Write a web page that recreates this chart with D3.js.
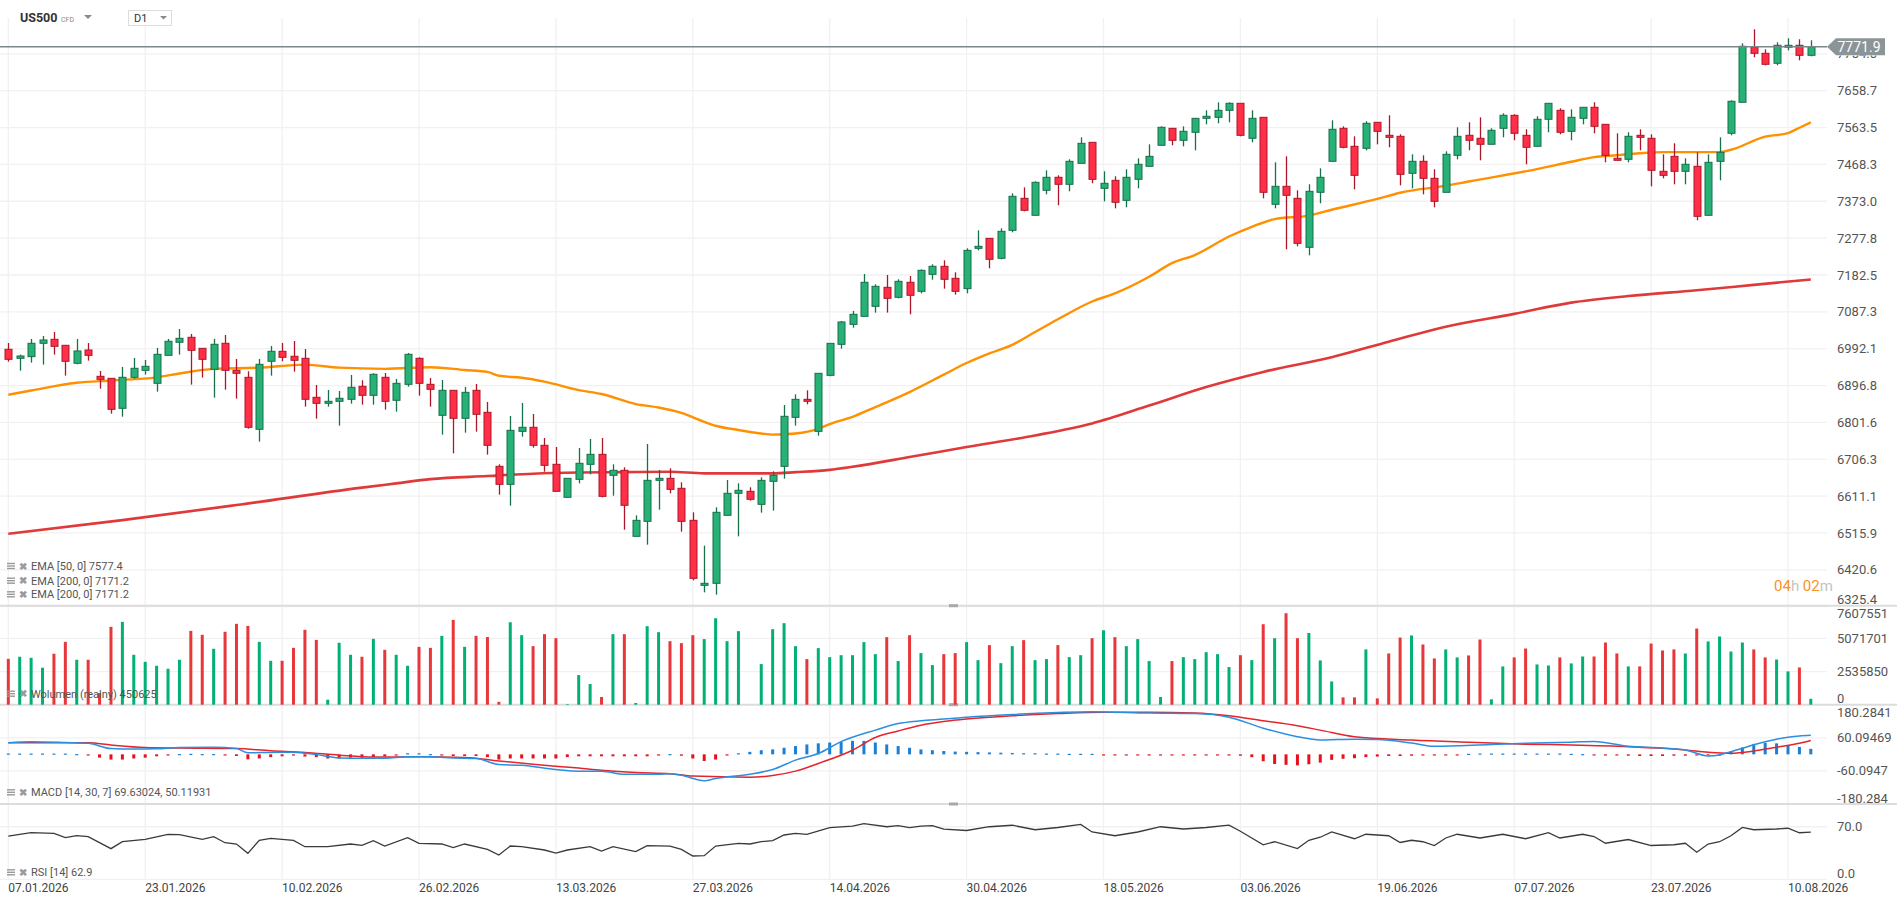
<!DOCTYPE html>
<html><head><meta charset="utf-8">
<script src="https://cdn.jsdelivr.net/npm/d3@7"></script>
<style>html,body{margin:0;padding:0;background:#fff;overflow:hidden}svg{display:block;font-family:Roboto,"Noto Sans",sans-serif}</style>
</head><body><svg id="c" width="1897" height="906"></svg>
<script>
const dateLabels = ["07.01.2026","23.01.2026","10.02.2026","26.02.2026","13.03.2026","27.03.2026","14.04.2026","30.04.2026","18.05.2026","03.06.2026","19.06.2026","07.07.2026","23.07.2026","10.08.2026"];
const open = [
6990.5,6967.2,6971.5,7006.0,7016.3,7000.8,6954.3,6988.7,6920.7,6915.5,
6838.0,6918.1,6936.2,6902.6,6974.9,7008.6,7021.5,6993.0,6938.8,7006.0,
6936.2,6918.1,6783.8,6959.5,6985.3,6972.4,6967.2,6866.4,6850.9,6856.1,
6861.3,6894.9,6871.6,6918.1,6858.7,6900.0,6967.2,6900.0,6819.9,6884.5,
6812.2,6884.5,6827.6,6688.1,6641.6,6778.5,6788.9,6742.4,6693.3,6608.0,
6654.5,6693.3,6719.1,6664.9,6677.8,6507.2,6546.0,6651.9,6657.1,6631.3,
6548.6,6380.6,6385.8,6561.5,6618.4,6623.5,6589.9,6649.4,6688.1,6814.7,
6861.2,6778.5,6923.2,7003.3,7055.0,7075.7,7101.5,7150.6,7124.8,7163.6,
7140.3,7184.2,7204.9,7173.9,7147.2,7251.4,7277.2,7225.6,7297.9,7380.6,
7336.7,7401.3,7434.9,7416.8,7471.0,7525.3,7406.4,7427.1,7375.4,7429.7,
7463.3,7517.6,7561.5,7530.5,7551.1,7587.3,7589.9,7608.0,7626.1,7535.7,
7589.9,7365.1,7411.6,7380.6,7254.0,7396.1,7476.2,7561.5,7515.0,7509.8,
7577.0,7543.4,7540.8,7445.2,7476.2,7432.3,7396.1,7491.7,7543.4,7535.7,
7520.2,7561.5,7595.1,7543.4,7515.0,7584.8,7608.0,7553.7,7587.3,7615.8,
7571.8,7484.0,7481.4,7543.4,7535.7,7450.4,7489.1,7450.4,7463.3,7336.7,
7476.2,7548.6,7628.7,7770.8,7755.3,7729.5,7770.8,7776.0,7750.1];
const high = [
7006.8,6976.7,7017.2,7024.9,7035.3,7000.8,7017.2,7006.8,6934.5,6915.5,
6944.8,6968.1,6962.9,6993.9,7017.2,7043.0,7030.1,6993.0,7017.2,7027.5,
6965.5,6933.6,6965.5,6999.1,7006.8,7012.0,6991.3,6898.3,6885.4,6882.8,
6924.2,6910.4,6928.5,6929.3,6913.8,6981.0,6969.8,6916.4,6911.2,6884.5,
6893.1,6900.9,6854.4,6693.3,6818.2,6851.8,6823.3,6761.3,6738.1,6657.1,
6735.5,6758.7,6761.3,6693.3,6685.5,6561.5,6745.8,6678.7,6683.0,6646.8,
6569.3,6483.1,6582.2,6652.8,6644.2,6633.9,6659.7,6675.2,6846.6,6874.2,
6884.5,6928.4,7005.9,7063.6,7089.5,7185.1,7158.4,7182.5,7171.3,7179.9,
7197.1,7210.1,7220.4,7189.4,7251.4,7297.9,7277.2,7303.1,7393.5,7409.0,
7424.5,7452.9,7440.0,7481.4,7538.2,7525.3,7450.4,7437.5,7455.5,7484.0,
7520.1,7566.6,7561.5,7566.6,7587.3,7608.0,7628.7,7628.7,7626.1,7608.0,
7589.9,7473.6,7489.1,7401.3,7416.8,7458.1,7582.2,7566.6,7540.8,7579.6,
7577.0,7595.1,7546.0,7494.3,7491.7,7455.6,7502.1,7564.1,7577.0,7589.9,
7561.5,7600.3,7597.7,7558.9,7592.5,7626.1,7613.2,7610.6,7615.8,7628.7,
7571.8,7548.6,7551.2,7558.9,7546.0,7494.3,7522.7,7484.0,7499.5,7494.3,
7538.2,7633.8,7781.1,7817.3,7765.6,7783.7,7794.1,7791.5,7788.9];
const low = [
6958.6,6935.3,6956.0,6950.9,6976.7,6922.4,6951.7,6961.2,6888.8,6824.2,
6816.5,6914.7,6925.0,6881.1,6974.9,6976.7,6899.2,6917.3,6865.6,6886.3,
6863.0,6785.5,6751.9,6922.4,6959.5,6932.8,6842.3,6811.3,6842.3,6793.2,
6850.1,6847.5,6847.5,6834.6,6829.4,6894.0,6870.8,6842.3,6770.0,6721.7,
6775.1,6777.7,6718.3,6614.9,6586.5,6764.8,6736.3,6674.3,6623.5,6608.0,
6644.2,6667.4,6608.0,6612.3,6524.5,6507.2,6485.7,6576.1,6618.4,6519.3,
6393.5,6362.5,6356.5,6561.5,6507.2,6599.4,6568.4,6573.6,6656.2,6793.2,
6848.3,6767.4,6920.7,6992.2,7046.4,7075.7,7085.2,7085.2,7122.2,7080.9,
7135.1,7170.4,7147.2,7131.7,7135.1,7246.2,7199.7,7223.0,7292.8,7347.0,
7336.7,7390.9,7362.5,7398.7,7471.0,7419.4,7372.8,7354.8,7357.4,7406.4,
7463.3,7517.6,7517.6,7515.0,7504.6,7571.8,7574.4,7577.0,7540.8,7525.3,
7380.6,7354.8,7248.8,7256.6,7233.3,7367.7,7476.2,7509.8,7403.9,7504.6,
7520.1,7512.4,7414.2,7406.4,7390.9,7357.4,7396.1,7481.4,7504.7,7478.8,
7520.2,7538.2,7530.5,7468.5,7515.0,7551.2,7546.0,7530.5,7571.8,7548.6,
7473.6,7478.8,7473.6,7504.7,7411.6,7432.3,7416.8,7416.8,7323.8,7336.7,
7427.1,7543.4,7628.7,7745.0,7724.3,7724.3,7763.0,7737.2,7747.5];
const close = [
6964.6,6973.2,7006.0,7014.6,6998.2,6959.5,6986.2,6974.9,6912.9,6835.4,
6918.1,6941.4,6946.5,6977.5,7011.2,7018.9,6987.9,6964.6,7003.4,6936.2,
6928.5,6788.9,6951.7,6985.3,6969.8,6962.0,6861.3,6850.9,6856.1,6863.9,
6892.3,6871.6,6925.9,6856.1,6902.6,6977.5,6902.6,6887.1,6884.5,6812.2,
6879.3,6822.5,6742.4,6641.6,6781.1,6788.9,6742.4,6690.7,6623.5,6657.1,
6695.9,6719.1,6610.6,6677.8,6587.4,6548.6,6651.9,6657.1,6628.7,6546.0,
6398.7,6385.8,6569.3,6618.4,6626.1,6602.9,6651.9,6664.9,6817.3,6861.2,
6856.1,6928.4,7005.9,7061.1,7080.9,7163.6,7153.2,7122.2,7166.1,7130.0,
7194.5,7204.9,7171.3,7140.3,7246.2,7256.6,7223.0,7295.3,7385.8,7349.6,
7421.9,7434.9,7416.8,7476.2,7522.7,7429.7,7419.4,7370.3,7434.9,7468.5,
7489.1,7564.1,7530.5,7553.7,7587.3,7592.5,7608.0,7626.1,7543.4,7587.3,
7396.1,7411.6,7388.4,7264.3,7398.7,7434.9,7558.9,7512.4,7440.0,7574.4,
7553.7,7538.2,7442.6,7476.2,7432.3,7372.9,7494.3,7540.8,7530.5,7520.2,
7556.3,7595.1,7548.6,7512.4,7584.8,7626.1,7551.2,7590.0,7615.8,7566.7,
7491.7,7478.8,7540.8,7538.2,7453.0,7440.0,7450.4,7468.5,7334.1,7473.6,
7499.5,7631.3,7773.4,7755.3,7726.9,7776.0,7776.0,7750.1,7771.9];
// volume in millions
const volumeM = [
3.51,3.67,3.59,2.83,3.90,4.81,3.44,3.44,0.89,5.96,
6.34,3.82,3.28,2.98,2.75,3.44,5.65,5.35,4.28,5.58,
6.19,6.03,4.81,3.36,3.36,4.35,5.73,4.96,0.38,4.74,
3.82,3.67,5.04,4.20,3.82,2.98,4.43,4.35,5.27,6.49,
4.43,5.27,5.18,0.22,6.31,5.32,4.48,5.40,5.09,0.05,
2.27,1.58,0.59,5.40,5.40,0.13,6.01,5.55,4.86,4.71,
5.32,5.02,6.62,4.86,5.63,0,3.11,5.78,6.24,4.48,
3.49,4.33,3.64,3.79,3.79,4.79,3.87,5.17,3.34,5.32,
3.95,3.03,3.87,3.95,4.79,3.41,4.56,3.18,4.48,4.94,
3.41,3.49,4.56,3.64,3.79,5.09,5.70,5.17,4.48,5.02,
3.34,0.59,3.34,3.64,3.49,4.02,3.87,2.88,3.79,3.41,
6.16,5.09,7.00,5.09,5.49,3.39,1.78,0.56,0.56,4.23,
0.48,3.92,5.14,5.30,4.61,3.54,4.23,3.62,3.77,4.99,
0.41,2.93,3.62,4.30,3.08,3.00,3.62,3.16,3.69,3.69,
4.76,3.92,2.93,2.93,4.68,4.15,4.23,3.92,5.83,4.84,
5.22,4.07,4.76,4.23,3.62,3.46,2.55,2.85,0.450625];
const ema50Pts = [[0,6873],[2,6884],[6,6904],[9,6910],[13,6918],[15,6928],[18,6940],[22,6943],[26,6951],[29,6943],[33,6940],[37,6944],[40,6937],[42,6932],[43,6922],[45,6917],[47,6907],[50,6885],[52,6875],[55,6849],[57,6840],[59,6826],[61,6803],[62,6793],[64,6782],[66,6773],[67,6770],[69,6773],[71,6785],[72,6797],[74,6816],[76,6841],[79,6880],[82,6925],[84,6955],[86,6980],[88,7002],[90,7035],[92,7068],[95,7114],[97,7135],[100,7178],[102,7213],[104,7234],[107,7282],[109,7307],[111,7327],[114,7336],[116,7351],[120,7379],[122,7395],[126,7413],[128,7424],[134,7456],[137,7475],[139,7487],[141,7492],[143,7497],[145,7500],[150,7500],[151,7506],[154,7540],[156,7549],[157,7563],[158,7577]];
const ema200Pts = [[0,6514],[10,6549],[20,6588],[31,6633],[34,6644],[37,6655],[42,6663],[46,6669],[50,6672],[54,6673],[58,6674],[61,6670],[64,6670],[67,6670],[69,6673],[72,6679],[74,6687],[79,6712],[84,6738],[90,6768],[95,6799],[100,6845],[105,6893],[110,6932],[116,6970],[121,7010],[126,7049],[132,7082],[137,7111],[142,7128],[148,7143],[153,7157],[158,7171]];
const macdPts = [[0,42],[2,46],[5,43],[7,40],[9,21],[11,19],[13,20],[15,25],[18,26],[20,21],[21,6],[23,7],[25,8],[27,-1],[29,-13],[31,-14],[33,-14],[35,-9],[37,-9],[39,-13],[41,-15],[43,-37],[45,-40],[48,-55],[50,-61],[52,-61],[54,-72],[57,-72],[58,-70],[59,-76],[61,-96],[62,-88],[65,-72],[67,-55],[69,-21],[71,3],[73,46],[76,88],[78,112],[80,122],[82,128],[84,135],[88,145],[92,152],[95,155],[100,150],[104,148],[107,135],[110,95],[113,64],[115,52],[118,55],[120,54],[123,41],[125,29],[130,36],[133,40],[137,44],[139,47],[142,29],[145,23],[147,16],[149,-6],[150,-2],[151,10],[152,22],[153,35],[154,46],[155,55],[156,62],[157,67],[158,69.6]];
const signalPts = [[0,42],[5,42],[7,42],[9,34],[12,25],[15,23],[20,21],[23,13],[26,7],[29,-3],[32,-10],[36,-9],[40,-11],[43,-24],[46,-36],[50,-50],[52,-58],[55,-66],[58,-70],[60,-79],[65,-83],[67,-77],[69,-61],[71,-33],[74,15],[76,61],[78,85],[80,106],[82,119],[84,128],[88,140],[92,148],[96,153],[100,153],[104,150],[107,140],[110,122],[113,104],[115,88],[118,64],[123,52],[128,44],[133,37],[137,34],[142,28],[145,22],[147,16],[149,8],[151,4],[153,12],[155,26],[157,40],[158,50.1]];
const hist = [
3,3,3,3,3,3,1,-1,
-12,-19,-19,-15,-12,-7,-2,
1,2,1,1,-1,
-6,-18,-15,-10,-7,-4,
-8,-10,-15,-15,-12,-12,-10,-7,-3,
4,4,1,-1,
-6,-6,-6,-10,
-19,-15,-15,-15,-15,-15,
-10,-7,-7,-7,-7,-7,-7,-7,
-3,1,-5,
-15,-24,-19,-3,
4,9,15,18,24,30,36,40,43,45,49,49,43,36,30,24,18,15,12,
10,9,8,7,6,5,4,4,3,3,2,2,2,
-1,-2,-2,-2,-2,-1,-1,-1,-1,-1,-2,-3,
-5,-10,-25,-35,-38,-40,-36,-30,-20,-16,-14,-10,-8,-6,-6,-5,-4,-3,-3,-2,
2,3,3,3,3,3,3,3,3,2,1,-1,
-3,-4,-5,-6,-6,-6,-5,-5,-4,-3,-2,
10,25,38,42,40,33,27,20];
const rsiPts = [[0,57.6],[2,62.1],[4,61.2],[5,55.4],[6,58.1],[7,56.7],[9,40.8],[10,50.1],[12,53.2],[14,59.8],[15,59.4],[17,53.2],[18,56.7],[19,48.7],[20,47.0],[21,34.6],[22,51.9],[23,54.5],[25,51.9],[26,43.4],[28,43.4],[30,47.0],[31,45.2],[32,51.4],[33,44.3],[35,55.4],[36,47.9],[38,47.0],[39,42.1],[40,47.0],[42,39.9],[43,32.3],[44,44.3],[45,43.4],[47,39.0],[48,35.0],[49,39.0],[51,43.4],[52,37.7],[53,43.4],[55,36.8],[56,44.8],[58,44.3],[59,39.9],[60,31.0],[61,31.4],[62,44.3],[64,47.9],[65,47.0],[66,50.1],[67,51.4],[68,59.0],[69,61.2],[70,59.8],[72,68.7],[74,70.9],[75,74.0],[77,70.0],[78,71.4],[79,68.7],[80,70.9],[81,71.4],[82,66.9],[84,65],[86,70],[88,72],[90,66],[92,69],[94,73],[95,63],[97,58],[99,63],[101,70],[103,67],[105,69],[107,72],[108,64],[110,46],[111,50],[113,41],[114,52],[115,56],[116,63],[118,54],[119,60],[121,58],[122,49],[123,52],[124,50],[125,45],[126,55],[127,60],[129,55],[131,60],[133,54],[135,62],[136,55],[138,60],[139,57],[140,48],[142,53],[144,45],[146,46],[147,48],[148,36],[149,47],[150,50],[151,58],[152,69],[153,66],[155,67],[156,68],[157,62],[158,62.9]];
const priceTicks = [6325.4,6420.6,6515.9,6611.1,6706.3,6801.6,6896.8,6992.1,7087.3,7182.5,7277.8,7373.0,7468.3,7563.5,7658.7,7754.0];
const volTicks = [0,2535850,5071701,7607551];
const macdTicks = [-180.284,-60.0947,60.09469,180.2841];
const rsiTicks = [0,70];
const lastPrice = 7771.9;

const svg = d3.select('#c');
const plotR = 1827, axX = 1837;
const x = d3.scaleLinear().domain([0,156]).range([8.3,1788]);
const yP = d3.scaleLinear().domain([6325.4,7754.0]).range([606.7,53.8]);
const yV = d3.scaleLinear().domain([0,7607551]).range([704.7,605.3]);
const yM = d3.scaleLinear().domain([-180.2841,180.2841]).range([804,704.7]);
const yR = d3.scaleLinear().domain([0,100]).range([879.3,804.2]);
const panels = {price:[18,605.7], vol:[605.7,704.7], macd:[704.7,804], rsi:[804,879.3]};

const grid = svg.append('g').attr('stroke','#f1f1f1').attr('stroke-width',1.3);
d3.range(0,157,12).forEach(i=>grid.append('line').attr('x1',x(i)).attr('x2',x(i)).attr('y1',18).attr('y2',880));
priceTicks.forEach(v=>grid.append('line').attr('x1',0).attr('x2',plotR).attr('y1',yP(v)).attr('y2',yP(v)));
[2535850,5071701].forEach(v=>grid.append('line').attr('x1',0).attr('x2',plotR).attr('y1',yV(v)).attr('y2',yV(v)));
[-60.0947,60.09469].forEach(v=>grid.append('line').attr('x1',0).attr('x2',plotR).attr('y1',yM(v)).attr('y2',yM(v)));
rsiTicks.forEach(v=>grid.append('line').attr('x1',0).attr('x2',plotR).attr('y1',yR(v)).attr('y2',yR(v)));

// separators
const sep = svg.append('g').attr('stroke','#dcdcdc').attr('stroke-width',2);
[605.7,704.7,804].forEach(y=>sep.append('line').attr('x1',0).attr('x2',1897).attr('y1',y).attr('y2',y));
[605.7,704.7,804].forEach(y=>svg.append('rect').attr('x',949).attr('y',y-1.5).attr('width',9).attr('height',3).attr('fill','#a9a9a9'));

// EMA lines
const lineP = d3.line().x(d=>x(d[0])).y(d=>yP(d[1])).curve(d3.curveMonotoneX);
svg.append('path').attr('d',lineP(ema200Pts)).attr('fill','none').attr('stroke','#e0393a').attr('stroke-width',2.6);
svg.append('path').attr('d',lineP(ema50Pts)).attr('fill','none').attr('stroke','#ff9000').attr('stroke-width',2.4);

// candles
const idx = d3.range(open.length);
const cg = svg.append('g');
idx.forEach(i=>{
  const up = close[i]>=open[i];
  const edge = up?'#16704a':'#ad1628';
  const fill = up?'#27b176':'#ff2f48';
  const cx = Math.round(x(i))+0.5;
  cg.append('line').attr('x1',cx).attr('x2',cx).attr('y1',yP(high[i])).attr('y2',yP(low[i])).attr('stroke',edge).attr('stroke-width',1.3);
  const t = yP(Math.max(open[i],close[i])), b = yP(Math.min(open[i],close[i]));
  cg.append('rect').attr('x',cx-3.5).attr('y',t).attr('width',7).attr('height',Math.max(1.5,b-t)).attr('fill',fill).attr('stroke',edge).attr('stroke-width',1);
});

// last price line
const yl = yP(lastPrice);
svg.append('line').attr('x1',0).attr('x2',plotR).attr('y1',yl).attr('y2',yl).attr('stroke','#7b878b').attr('stroke-width',1.5);

// volume
idx.forEach(i=>{
  const up = close[i]>=open[i];
  const v = volumeM[i]*1e6;
  svg.append('rect').attr('x',x(i)-1.5).attr('y',yV(v)).attr('width',3).attr('height',yV(0)-yV(v)).attr('fill',up?'#00b074':'#e8373a');
});

// MACD
idx.forEach(i=>{
  const h = hist[i]; const y0 = yM(0), y1 = yM(h);
  svg.append('rect').attr('x',x(i)-1.5).attr('y',Math.min(y0,y1)).attr('width',3).attr('height',Math.max(1.2,Math.abs(y1-y0))).attr('fill',h>=0?'#1b7fd6':'#e5121c');
});
const lineM = d3.line().x(d=>x(d[0])).y(d=>yM(d[1])).curve(d3.curveMonotoneX);
svg.append('path').attr('d',lineM(signalPts)).attr('fill','none').attr('stroke','#e5242b').attr('stroke-width',1.5);
svg.append('path').attr('d',lineM(macdPts)).attr('fill','none').attr('stroke','#2b8fdf').attr('stroke-width',1.5);

// RSI
const lineR = d3.line().x(d=>x(d[0])).y(d=>yR(d[1]));
svg.append('path').attr('d',lineR(rsiPts)).attr('fill','none').attr('stroke','#3a3a3a').attr('stroke-width',1.3);

// right axis labels
const axG = svg.append('g').attr('font-size',13).attr('fill','#555');
function axLabel(y, p, txt, clip){
  const yy = Math.min(Math.max(y, p[0]+8), p[1]-6);
  const t = axG.append('text').attr('x',axX).attr('y',yy).attr('dy','0.35em').text(txt);
  if (clip) t.attr('clip-path','url(#belowBox)');
}
const defs = svg.append('defs');
defs.append('clipPath').attr('id','belowBox').append('rect').attr('x',axX-2).attr('y',yl+8.6).attr('width',60).attr('height',20);
priceTicks.forEach(v=>axLabel(yP(v), panels.price, v.toFixed(1), Math.abs(yP(v)-yl)<12));
volTicks.forEach(v=>axLabel(yV(v), panels.vol, String(v)));
macdTicks.forEach(v=>axLabel(yM(v), panels.macd, String(v)));
rsiTicks.forEach(v=>axLabel(yR(v), panels.rsi, v.toFixed(1)));

// price box
svg.append('path').attr('d',`M${plotR},${yl} L${plotR+9},${yl-8.5} L1885,${yl-8.5} L1885,${yl+8.5} L${plotR+9},${yl+8.5} Z`).attr('fill','#8b9497');
svg.append('text').attr('x',axX+0.5).attr('y',yl).attr('dy','0.36em').attr('font-size',14).attr('fill','#fff').text(lastPrice.toFixed(1));

// timer
const tm = svg.append('text').attr('x',1774).attr('y',586).attr('dy','0.35em').attr('font-size',15);
tm.append('tspan').attr('fill','#f7931e').text('04');
tm.append('tspan').attr('fill','#c4c4c4').text('h ');
tm.append('tspan').attr('fill','#f7931e').text('02');
tm.append('tspan').attr('fill','#c4c4c4').text('m');

// x labels
d3.range(0,157,12).forEach((i,k)=>{
  svg.append('text').attr('x',x(i)).attr('y',888).attr('dy','0.35em').attr('font-size',12).attr('fill','#444').text(dateLabels[k]);
});

// legends
function legend(y, txt){
  const g = svg.append('g');
  [-2.5,0,2.5].forEach(d=>g.append('rect').attr('x',7).attr('y',y+d-0.7).attr('width',8).attr('height',1.4).attr('fill','#9a9a9a'));
  g.append('text').attr('x',18.5).attr('y',y).attr('dy','0.35em').attr('font-size',10).attr('font-weight','bold').attr('fill','#9a9a9a').text('✖');
  g.append('text').attr('x',31).attr('y',y).attr('dy','0.35em').attr('font-size',11).attr('fill','#555').text(txt);
}
legend(566,'EMA [50, 0] 7577.4');
legend(580.7,'EMA [200, 0] 7171.2');
legend(594.3,'EMA [200, 0] 7171.2');
legend(693.7,'Wolumen (realny) 450625');
legend(792.3,'MACD [14, 30, 7] 69.63024, 50.11931');
legend(872.3,'RSI [14] 62.9');

// header
svg.append('text').attr('x',20).attr('y',22).attr('font-size',12.5).attr('font-weight','bold').attr('fill','#333').text('US500');
svg.append('text').attr('x',61).attr('y',22).attr('font-size',7).attr('fill','#888').text('CFD');
svg.append('path').attr('d','M84,15 L92,15 L88,19 Z').attr('fill','#8a8a8a');
svg.append('rect').attr('x',128.5).attr('y',10.5).attr('width',43).attr('height',15).attr('fill','#fff').attr('stroke','#ddd');
svg.append('text').attr('x',134).attr('y',18).attr('dy','0.35em').attr('font-size',11).attr('fill','#333').text('D1');
svg.append('path').attr('d','M160,16 L167,16 L163.5,19.5 Z').attr('fill','#8a8a8a');
</script>
</body></html>
